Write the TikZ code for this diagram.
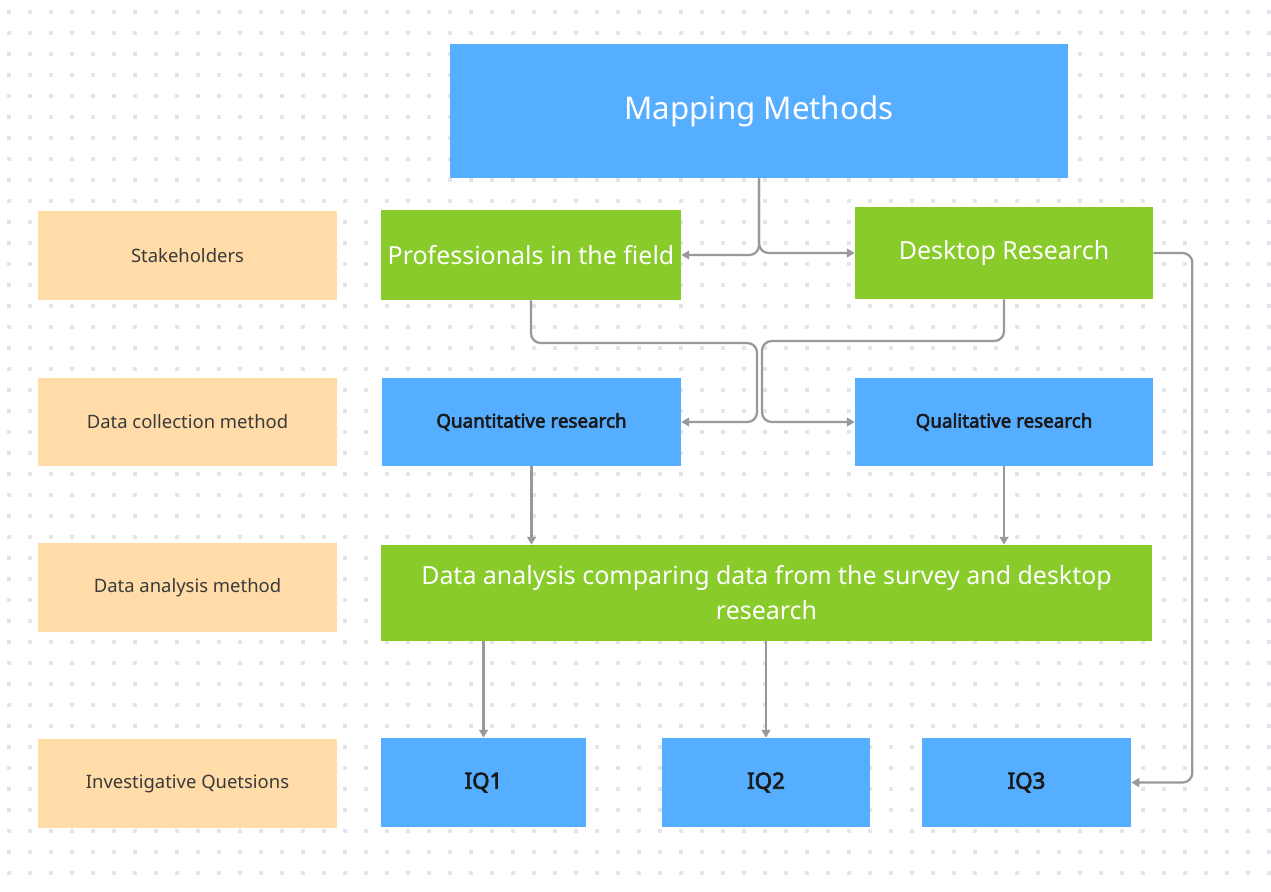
\documentclass[tikz,border=0pt]{standalone}
\usepackage{fontspec}
\setmainfont{Noto Sans}
\newfontfamily\heavysans{Noto Sans}[FakeBold=3]
\usetikzlibrary{positioning,arrows.meta}

\definecolor{boxblue}{HTML}{55AEFF}
\definecolor{boxgreen}{HTML}{88CB2A}
\definecolor{peach}{HTML}{FFDCA8}
\definecolor{linegray}{HTML}{999999}
\definecolor{dotgray}{HTML}{E3E5EB}
\definecolor{labeltext}{HTML}{3A3A3A}

\begin{document}
\begin{tikzpicture}[
  x=0.02cm, y=-0.02cm,
  box/.style={rectangle, inner sep=0pt, align=center},
  rowlabel/.style={box, fill=peach, minimum width=5.98cm, minimum height=1.78cm, text=labeltext, font=\fontsize{10.5}{13}\selectfont},
  greenbox/.style={box, fill=boxgreen, text=white, font=\fontsize{14.2}{20}\selectfont},
  bluebox/.style={box, fill=boxblue, text=black!90, font=\heavysans\fontsize{10.7}{12}\selectfont},
  iqbox/.style={box, fill=boxblue, text=black!90, minimum height=1.78cm, font=\heavysans\fontsize{12.7}{15}\selectfont},
  conn/.style={-{Triangle[length=4.5pt,width=5pt]}, draw=linegray, line width=1.3pt, rounded corners=5.5pt},
]
\useasboundingbox (0,0) rectangle (1271,892);

% dotted canvas
\fill[white] (0,0) rectangle (1271,892);
\foreach \i in {0,...,60}
  \foreach \j in {0,...,42}
    \fill[dotgray] (7.3+21*\i, 10.3+21*\j) rectangle ++(4,4);

% === Title ===
\node[box, fill=boxblue, text=white, minimum width=12.36cm, minimum height=2.68cm, font=\fontsize{17.8}{21}\selectfont] (map) at (759,111) {Mapping Methods};

% === Row labels ===
\node[rowlabel] (lstake) at (187.5,255.5) {Stakeholders};
\node[rowlabel] (lcoll) at (187.5,422) {Data collection method};
\node[rowlabel] (lanal) at (187.5,587.5) {Data analysis method};
\node[rowlabel] (liq) at (187.5,783.5) {Investigative Quetsions};

% === Stakeholders ===
\node[greenbox, minimum width=6cm, minimum height=1.8cm] (prof) at (531,255) {Professionals in the field};
\node[greenbox, minimum width=5.96cm, minimum height=1.84cm] (desk) at (1004,253) {Desktop Research};

% === Collection ===
\node[bluebox, minimum width=5.98cm, minimum height=1.76cm] (quant) at (531.5,422) {Quantitative research};
\node[bluebox, minimum width=5.96cm, minimum height=1.76cm] (qual) at (1004,422) {Qualitative research};

% === Analysis ===
\node[greenbox, minimum width=15.42cm, minimum height=1.92cm] (dat) at (766.5,593) {Data analysis comparing data from the survey and desktop\\research};

% === Questions ===
\node[iqbox, minimum width=4.1cm] (iq1) at (483.5,782.5) {IQ1};
\node[iqbox, minimum width=4.16cm] (iq2) at (766,782.5) {IQ2};
\node[iqbox, minimum width=4.18cm] (iq3) at (1026.5,782.5) {IQ3};

% === Connectors ===
\coordinate (hubl) at (757,343);
\coordinate (hubr) at (762,341);

\draw[conn] (map.south) |- (prof.east);
\draw[conn] (map.south) |- (desk.west);

\draw[conn] (prof.south) |- (hubl) |- (quant.east);
\draw[conn] (desk.south) |- (hubr) |- (qual.west);

\draw[conn] (desk.east) -- ++(39,0) |- (iq3.east);

\draw[conn] (quant.south) -- (quant.south |- dat.north);
\draw[conn] (qual.south) -- (qual.south |- dat.north);

\draw[conn] (iq1.north |- dat.south) -- (iq1.north);
\draw[conn] (iq2.north |- dat.south) -- (iq2.north);

\end{tikzpicture}
\end{document}
